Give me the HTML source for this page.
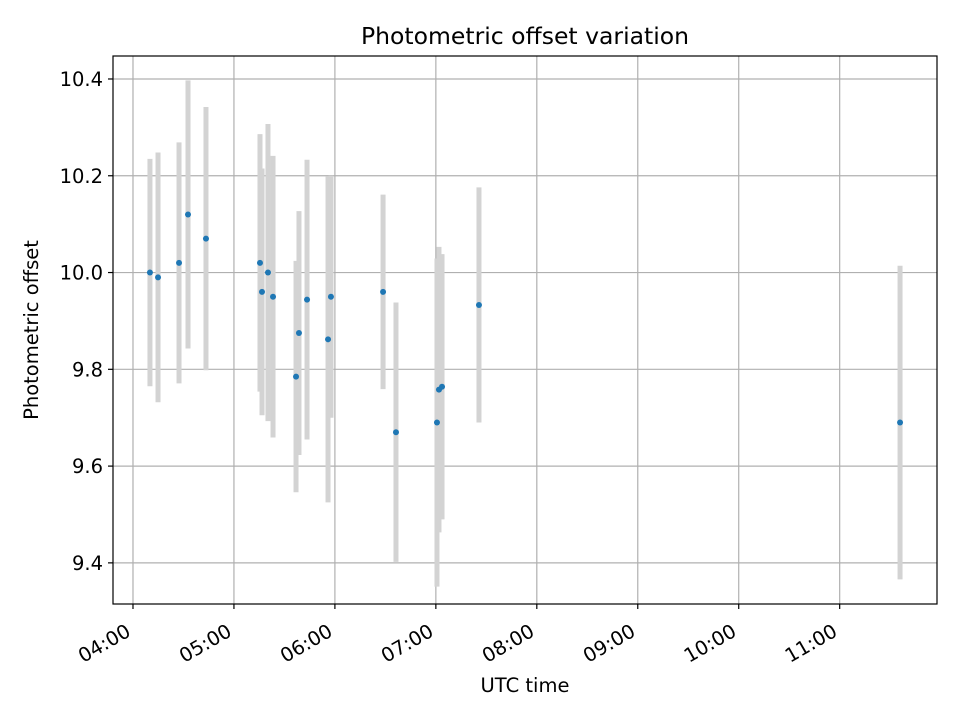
<!DOCTYPE html>
<html><head><meta charset="utf-8"><style>
body{margin:0;background:#fff;}
svg text{font-family:"DejaVu Sans","Liberation Sans",sans-serif;fill:#000;}
</style></head><body>
<svg id="chart" width="960" height="720" xmlns="http://www.w3.org/2000/svg">
<rect width="960" height="720" fill="#fff"/>
<g id="grid"></g>
<g id="bars"></g>
<g id="pts"></g>
<rect x="113" y="56" width="824" height="548" fill="none" stroke="#000" stroke-width="1.2"/>
<g id="ticks"></g>
<text x="525" y="44" font-size="23.5" text-anchor="middle">Photometric offset variation</text>
<text x="525" y="692" font-size="19.5" text-anchor="middle">UTC time</text>
<text transform="translate(38,330) rotate(-90)" font-size="19.5" text-anchor="middle">Photometric offset</text>
</svg>
<script>
const times = [4.168,4.248,4.456,4.545,4.723,5.258,5.278,5.337,5.387,5.615,5.644,5.724,5.932,5.961,6.477,6.605,7.011,7.031,7.061,7.427,11.598];
const offsets = [10.00,9.99,10.02,10.12,10.07,10.02,9.96,10.00,9.95,9.785,9.875,9.944,9.862,9.95,9.96,9.67,9.69,9.758,9.764,9.933,9.69];
const errors = [0.235,0.258,0.249,0.277,0.272,0.266,0.255,0.307,0.291,0.239,0.252,0.289,0.337,0.25,0.201,0.268,0.339,0.295,0.274,0.243,0.324];
const yTicks = [9.4,9.6,9.8,10.0,10.2,10.4];
const xTicks = [4,5,6,7,8,9,10,11];
const xTickLabels = ["04:00","05:00","06:00","07:00","08:00","09:00","10:00","11:00"];

const L=113,R=937,T=56,B=604;
const x0=3.802,x1=11.964,y0=9.315,y1=10.4475;
const X=v=>L+(v-x0)/(x1-x0)*(R-L);
const Y=v=>B-(v-y0)/(y1-y0)*(B-T);
const NS="http://www.w3.org/2000/svg";
function mk(tag,parent,attrs){const e=document.createElementNS(NS,tag);for(const k in attrs)e.setAttribute(k,attrs[k]);parent.appendChild(e);return e;}
const grid=document.getElementById('grid'),ticks=document.getElementById('ticks'),bars=document.getElementById('bars'),pts=document.getElementById('pts');
yTicks.forEach(t=>{
  const y=Y(t);
  const g=mk('line',grid,{x1:L,x2:R,y1:y,y2:y,stroke:'#b0b0b0','stroke-width':1.2});
  
  
  mk('line',ticks,{x1:L-5,x2:L,y1:y,y2:y,stroke:'#000','stroke-width':1.2});
  const tx=mk('text',ticks,{x:L-10,y:y+7,'font-size':19.5,'text-anchor':'end'});
  tx.textContent=t.toFixed(1);
  
  
});
xTicks.forEach((t,i)=>{
  const x=X(t);
  const g=mk('line',grid,{x1:x,x2:x,y1:T,y2:B,stroke:'#b0b0b0','stroke-width':1.2});
  
  
  mk('line',ticks,{x1:x,x2:x,y1:B,y2:B+5,stroke:'#000','stroke-width':1.2});
  const ax=x-1, ay=B+31;
  const tx=mk('text',ticks,{x:ax,y:ay,'font-size':19.5,'text-anchor':'end',transform:`rotate(-30 ${ax} ${ay})`});
  tx.textContent=xTickLabels[i];
  
  
});
times.forEach((t,i)=>{
  const x=X(t);
  const b=mk('line',bars,{x1:x,x2:x,y1:Y(offsets[i]+errors[i]),y2:Y(offsets[i]-errors[i]),stroke:'#d3d3d3','stroke-width':5});
  
  
  const c=mk('circle',pts,{cx:x,cy:Y(offsets[i]),r:3,fill:'#1f77b4'});
  
  
});
</script>
</body></html>
